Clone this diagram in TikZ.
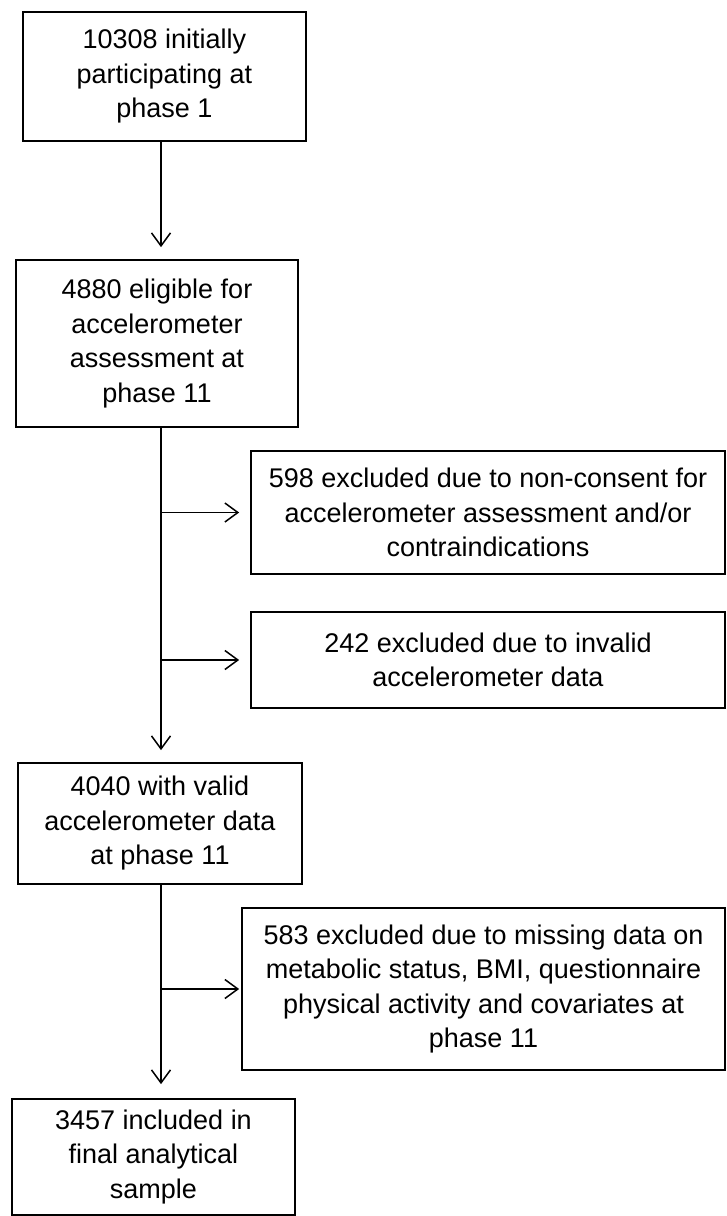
\documentclass[tikz,border=0pt]{standalone}
\usepackage{fontspec}
\setmainfont{Liberation Sans}
\usetikzlibrary{arrows.meta,calc}

\begin{document}
\begin{tikzpicture}[x=1pt, y=-1pt,
    box/.style={draw, line width=1.7pt, align=center, inner sep=0pt,
      font=\fontsize{27}{34.5}\selectfont},
    flow/.style={line width=1.4pt,
      -{Straight Barb[length=13pt, width=19pt, line width=1.5pt]}}]
    \useasboundingbox (0,0) rectangle (727,1216);
    % main column
    \node[box, minimum width=283pt, minimum height=129pt] (start) at (164.5,76.5)
      {10308 initially\\participating at\\phase 1};
    \node[box, minimum width=282pt, minimum height=167pt] (elig) at (157,343.5)
      {4880 eligible for\\accelerometer\\assessment at\\phase 11};
    \node[box, minimum width=284pt, minimum height=121pt] (valid) at (160,823.5)
      {4040 with valid\\accelerometer data\\at phase 11};
    \node[box, minimum width=283pt, minimum height=116pt] (final) at (153.5,1157)
      {3457 included in\\final analytical\\sample};
    % exclusions
    \node[box, minimum width=474pt, minimum height=123pt] (exconsent) at (488,512.5)
      {598 excluded due to non-consent for\\accelerometer assessment and/or\\contraindications};
    \node[box, minimum width=474pt, minimum height=96pt] (exinvalid) at (488,660)
      {242 excluded due to invalid\\accelerometer data};
    \node[box, minimum width=483pt, minimum height=162pt] (exmissing) at (483.5,989)
      {583 excluded due to missing data on\\metabolic status, BMI, questionnaire\\physical activity and covariates at\\phase 11};
    % trunk and arrows
    \coordinate (trunk) at (161,0);
    \draw[flow, shorten >=12pt] (start.south -| trunk) -- (elig.north -| trunk);
    \draw[flow, shorten >=12pt] (elig.south -| trunk) -- (valid.north -| trunk);
    \draw[flow, shorten >=14pt] (valid.south -| trunk) -- (final.north -| trunk);
    \draw[flow, shorten >=11pt] (exconsent.west -| trunk) -- (exconsent.west);
    \draw[flow, shorten >=11pt] (exinvalid.west -| trunk) -- (exinvalid.west);
    \draw[flow, shorten >=2pt] (exmissing.west -| trunk) -- (exmissing.west);
\end{tikzpicture}
\end{document}
